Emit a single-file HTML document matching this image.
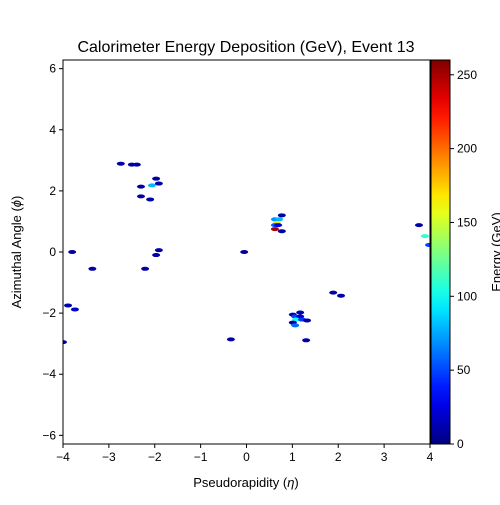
<!DOCTYPE html>
<html><head><meta charset="utf-8"><style>
body{margin:0;background:#fff;width:500px;height:500px;overflow:hidden}
svg text{font-family:"Liberation Sans",sans-serif;fill:#000}
</style></head><body>
<svg id="c" width="500" height="500"></svg>
<script>
const etaVals=[-2.74,-2.50,-2.39,-1.97,-1.91,-2.06,-2.30,-2.30,-2.10,-1.91,-1.97,-2.21,-3.80,-3.36,-3.89,-3.74,-4.0,-0.34,-0.05,1.89,2.06,3.76,3.89,3.98,0.77,0.62,0.71,0.66,0.62,0.69,0.62,0.77,1.01,1.17,1.06,1.17,1.08,1.21,1.32,1.01,1.06,1.30];
const phiVals=[2.89,2.86,2.86,2.40,2.24,2.18,2.14,1.82,1.72,0.06,-0.10,-0.55,0.0,-0.55,-1.75,-1.88,-2.95,-2.86,0.0,-1.33,-1.43,0.88,0.52,0.23,1.20,1.07,1.07,0.94,0.88,0.88,0.75,0.68,-2.05,-1.98,-2.11,-2.11,-2.21,-2.21,-2.24,-2.31,-2.40,-2.89];
const energyVals=[10,10,10,10,10,80,10,10,10,10,10,10,10,10,10,20,10,10,10,10,10,10,110,50,10,70,80,170,55,25,250,10,10,10,50,20,100,45,10,10,60,10];
const xTicks=[-4,-3,-2,-1,0,1,2,3,4];
const yTicks=[-6,-4,-2,0,2,4,6];
const cTicks=[0,50,100,150,200,250];
const NS="http://www.w3.org/2000/svg";
const svg=document.getElementById('c');
const L=63,R=430,T=60,B=444,PI2=2*Math.PI,VMAX=260;
const sx=v=>L+(v+4)/8*(R-L);
const sy=v=>B-(v+PI2)/(2*PI2)*(B-T);
function mk(t,a,p){const e=document.createElementNS(NS,t);for(const k in a)e.setAttribute(k,a[k]);(p||svg).appendChild(e);return e;}
function jet(v){let t=Math.max(0,Math.min(1,v/VMAX));
 const f=x=>Math.max(0,Math.min(1,1.5-Math.abs(4*t-x)));
 return `rgb(${Math.round(f(3)*255)},${Math.round(f(2)*255)},${Math.round(f(1)*255)})`;}
const cl=mk('clipPath',{id:'pc'});mk('rect',{x:L,y:T,width:R-L,height:B-T},cl);
const g=mk('g',{'clip-path':'url(#pc)'});


for(let i=0;i<etaVals.length;i++){
 const e=mk('ellipse',{cx:sx(etaVals[i]),cy:sy(phiVals[i]),rx:4,ry:2,fill:jet(energyVals[i])},g);
 
 
}
const fr=mk('rect',{x:L,y:T,width:R-L,height:B-T,fill:'none',stroke:'#000','stroke-width':1});


xTicks.forEach(v=>{const x=sx(v);mk('line',{x1:x,x2:x,y1:B,y2:B+4,stroke:'#000'});
 const t=mk('text',{x:x,y:B+17,'text-anchor':'middle','font-size':12});t.textContent=(v<0?'\u2212'+(-v):v);
 });
yTicks.forEach(v=>{const y=sy(v);mk('line',{x1:L-4,x2:L,y1:y,y2:y,stroke:'#000'});
 const t=mk('text',{x:L-7,y:y+4,'text-anchor':'end','font-size':12});t.textContent=(v<0?'\u2212'+(-v):v);
 });
const CL=431,CR=450;
const gr=mk('linearGradient',{id:'jg',x1:0,y1:1,x2:0,y2:0});
for(let i=0;i<=20;i++)mk('stop',{offset:i/20,'stop-color':jet(i/20*VMAX)},gr);
const cb=mk('rect',{x:CL,y:T,width:CR-CL,height:B-T,fill:'url(#jg)',stroke:'#000','stroke-width':1});


cTicks.forEach(v=>{const y=B-v/VMAX*(B-T);mk('line',{x1:CR,x2:CR+4,y1:y,y2:y,stroke:'#000'});
 const t=mk('text',{x:CR+7,y:y+4,'font-size':12});t.textContent=v;
 });
</script>
<svg width="500" height="500" style="position:absolute;left:0;top:0">
<text x="246" y="52" text-anchor="middle" font-size="16">Calorimeter Energy Deposition (GeV), Event 13</text>
<text x="246" y="487" text-anchor="middle" font-size="13">Pseudorapidity (<tspan font-style="italic">η</tspan>)</text>
<text transform="translate(21,252) rotate(-90)" text-anchor="middle" font-size="13">Azimuthal Angle (<tspan font-style="italic">ϕ</tspan>)</text>
<text transform="translate(501,252) rotate(-90)" text-anchor="middle" font-size="13">Energy (GeV)</text>
</svg>
</body></html>
